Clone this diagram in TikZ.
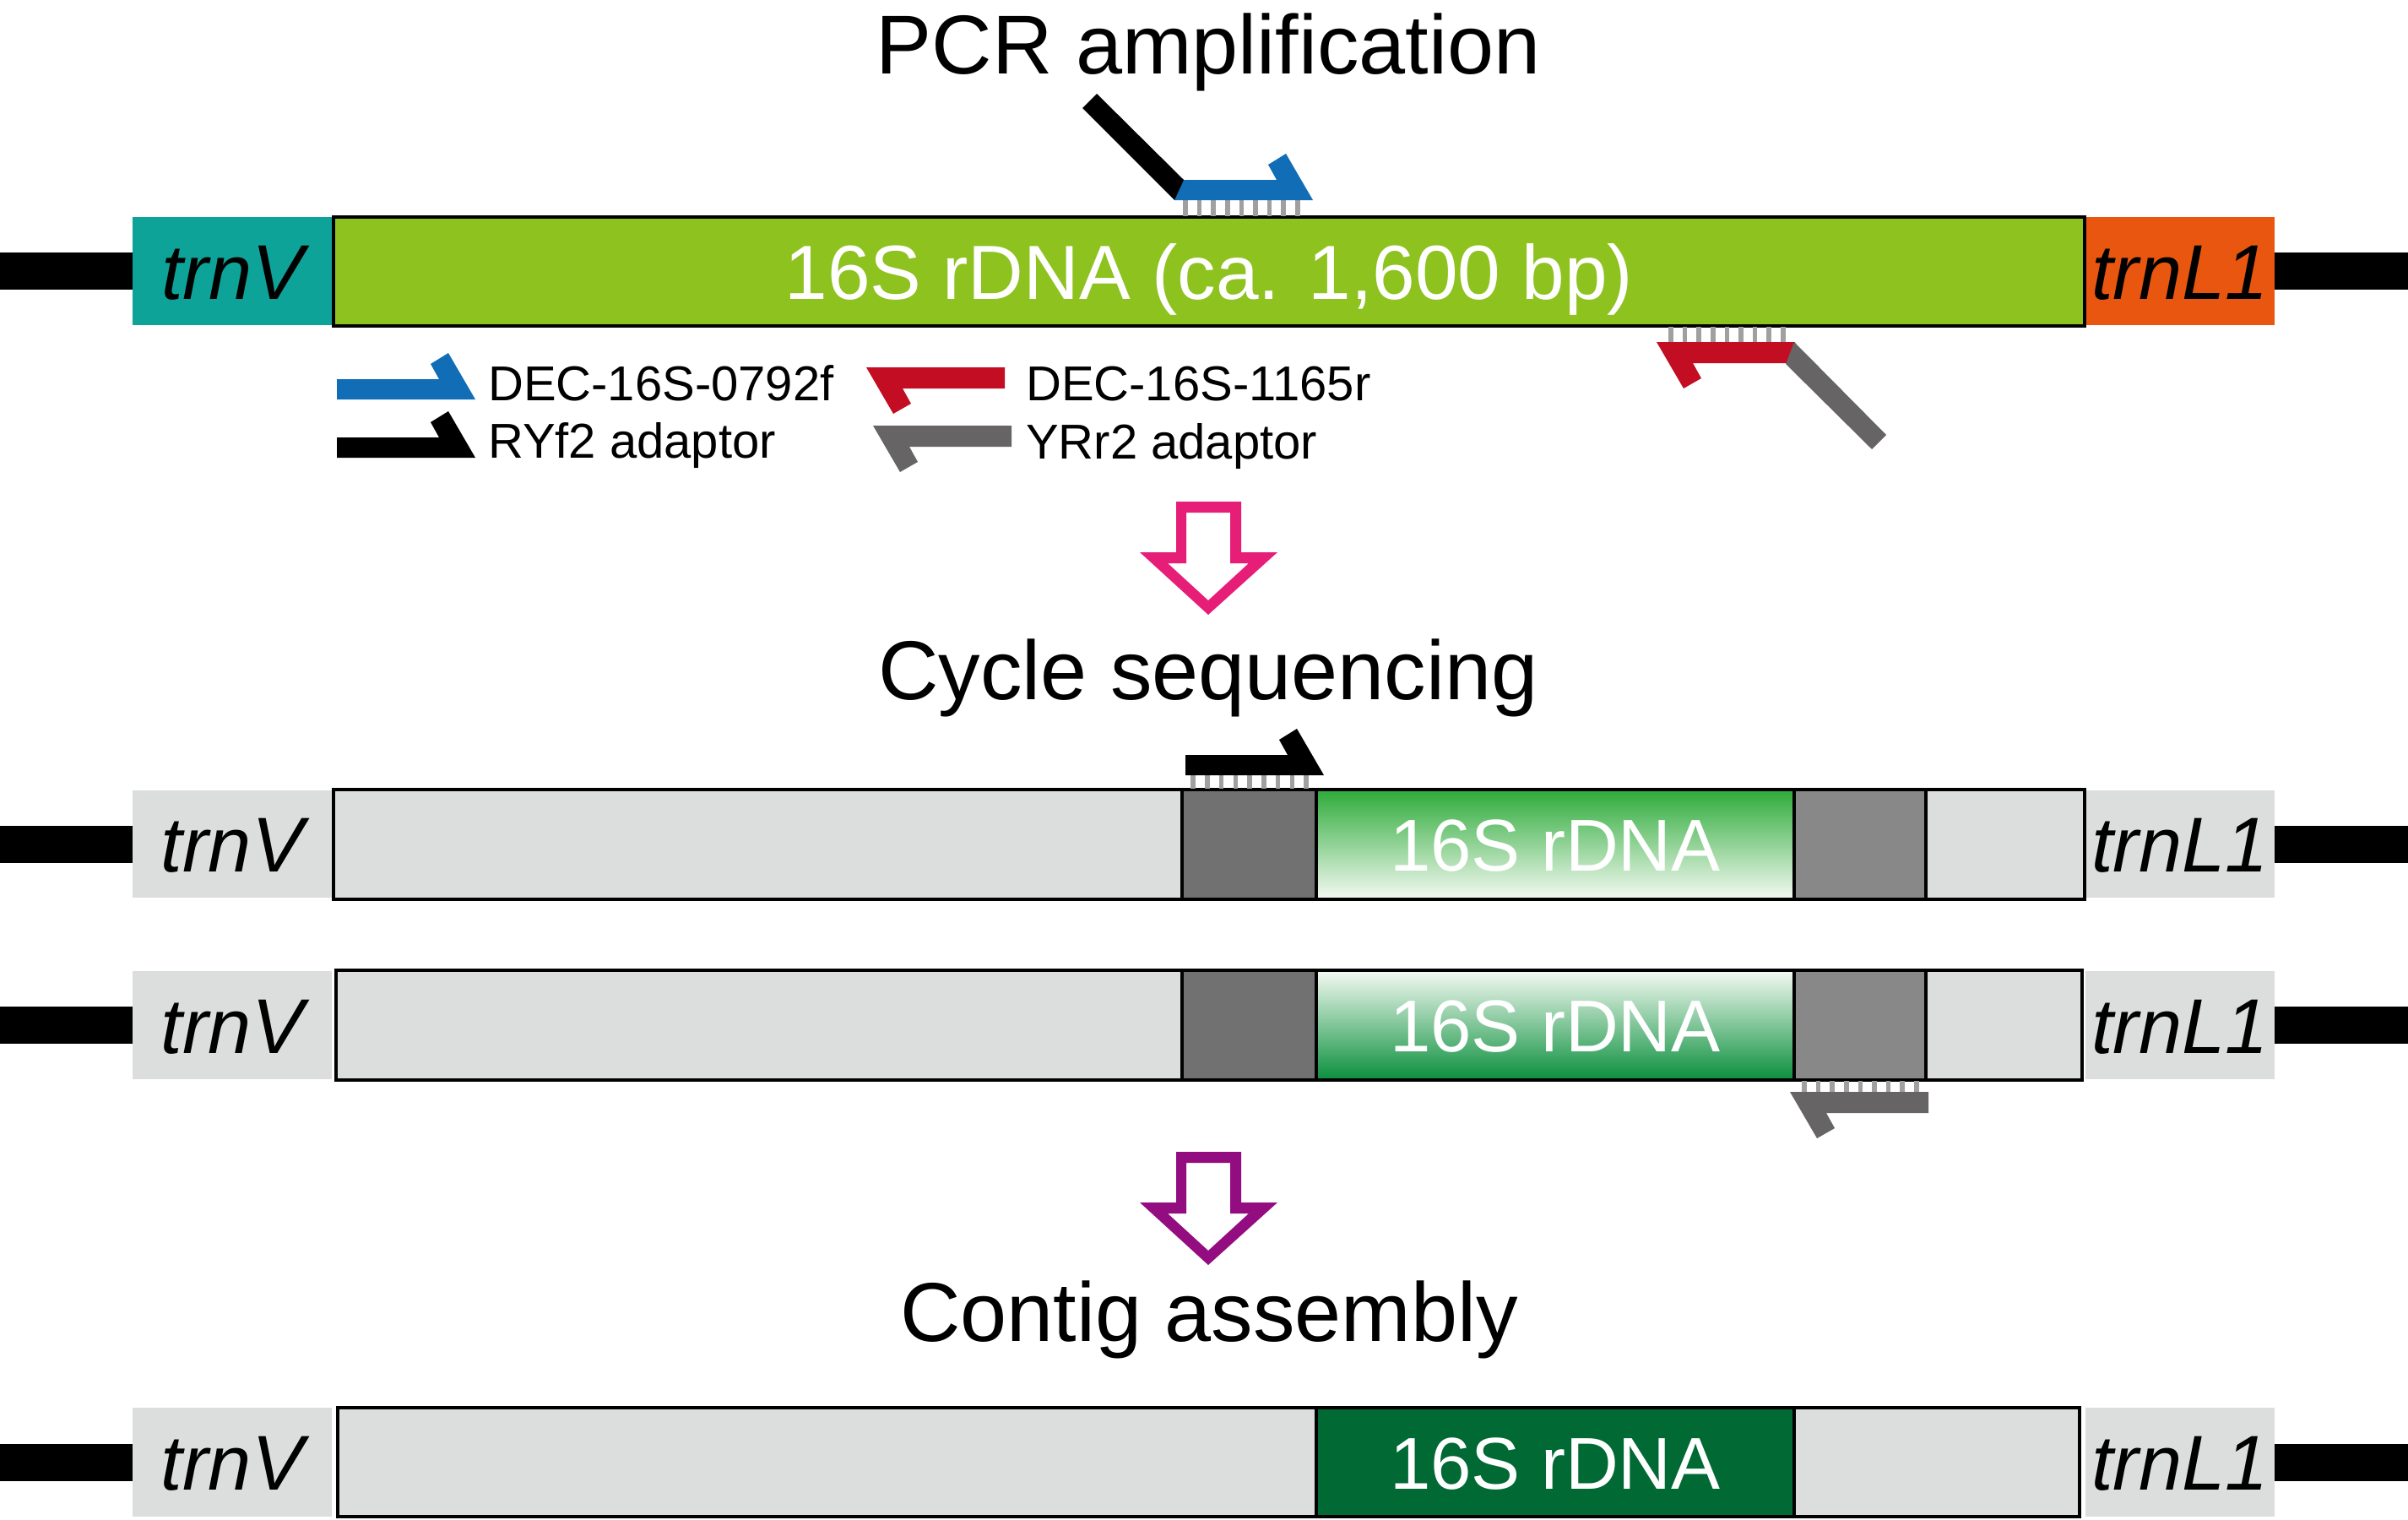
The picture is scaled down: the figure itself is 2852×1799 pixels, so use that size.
\documentclass[tikz,border=0pt]{standalone}
\usepackage{fontspec}
\setmainfont{Liberation Sans}
\definecolor{teal1}{HTML}{0EA399}
\definecolor{lgreen}{HTML}{8DC21F}
\definecolor{orng}{HTML}{E8560F}
\definecolor{pblue}{HTML}{116EB6}
\definecolor{pred}{HTML}{C30D23}
\definecolor{pgray}{HTML}{666464}
\definecolor{boxgray}{HTML}{DCDDDD}
\definecolor{dgrayA}{HTML}{717171}
\definecolor{dgrayB}{HTML}{888888}
\definecolor{tickgray}{HTML}{A0A0A0}
\definecolor{gtop}{HTML}{2EAB3A}
\definecolor{gpale}{HTML}{F5FAF3}
\definecolor{gbot}{HTML}{0A8F3C}
\definecolor{dgreen}{HTML}{006934}
\definecolor{pink1}{HTML}{E61E78}
\definecolor{purp1}{HTML}{930D80}
\newcommand\fTitle{\fontsize{99}{110}\selectfont}
\newcommand\fLegend{\fontsize{58}{64}\selectfont}
\newcommand\fTrn{\fontsize{92}{100}\selectfont\itshape}
\newcommand\fBig{\fontsize{91}{100}\selectfont}
\newcommand\fSeg{\fontsize{87}{96}\selectfont}
\tikzset{
  blk/.style={rectangle, inner sep=0pt, outer sep=0pt, anchor=north west},
  mainbox/.style={blk, draw=black, line width=4pt},
  trnbox/.style={blk, font=\fTrn, text height=66pt, text depth=0pt},
  seglbl/.style={font=\fSeg, text=white, text height=63pt, text depth=0pt},
  flank/.style={line width=44pt, black},
  tickline/.style={line width=5.5pt, tickgray},
  legtext/.style={font=\fLegend, anchor=base west, inner sep=0pt},
  titletext/.style={font=\fTitle, anchor=base, inner sep=0pt},
  fwdprimer/.pic={\fill (-164,0) -- (0,0) -- (-32,-55) -- (-53,-42) -- (-43,-24) -- (-164,-24) -- cycle;},
  revprimer/.pic={\fill (0,0) -- (164,0) -- (164,25) -- (43,25) -- (53,43) -- (32,55) -- cycle;},
  hollowarrow/.pic={\fill[even odd rule] (1393,594) -- (1470,594) -- (1470,654) -- (1513,654) -- (1431,728) -- (1350,654) -- (1393,654) -- cycle
     (1405,607) -- (1457,607) -- (1457,667) -- (1479,667) -- (1431,711) -- (1383,667) -- (1405,667) -- cycle;},
}
\begin{document}
\begin{tikzpicture}[x=1pt,y=-1pt]
\useasboundingbox (0,0) rectangle (2852,1799);

% ---------- titles ----------
\node[titletext] (t1) at (1431,87) {PCR amplification};
\node[titletext] (t2) at (1431,828) {Cycle sequencing};
\node[titletext] (t3) at (1432,1588) {Contig assembly};

% ---------- row 1 ----------
\node[trnbox, fill=teal1, minimum width=237pt, minimum height=128pt] (v1) at (157,257) {trnV};
\node[trnbox, fill=orng, minimum width=224pt, minimum height=128pt] (l1) at (2470,257) {trnL1};
\node[mainbox, fill=lgreen, font=\fBig, text=white, text height=65pt, text depth=0pt,
      minimum width=2074pt, minimum height=129pt] (b1) at (395,257) {16S rDNA (ca. 1,600 bp)};
\coordinate (e1l) at (0,321);
\coordinate (e1r) at (2852,321);
\draw[flank] (e1l) -- (v1.west);
\draw[flank] (l1.east) -- (e1r);

% forward primer with adaptor (top)
\foreach \i in {0,...,8} \draw[tickline] ({1404+16.6*\i},237) -- ({1404+16.6*\i},256);
\pic[pblue] at (1555,237) {fwdprimer};
\fill[black] (1282,128) -- (1299,111) -- (1402,213) -- (1391,237) -- cycle;

% reverse primer with adaptor (bottom)
\foreach \i in {0,...,8} \draw[tickline] ({1979+16.6*\i},387) -- ({1979+16.6*\i},405);
\pic[pred] at (1962,405) {revprimer};
\fill[pgray] (2125,405) -- (2234,515) -- (2217,532) -- (2115,431) -- cycle;

% legend
\pic[pblue] at (563,473) {fwdprimer};
\pic[black] at (563,542) {fwdprimer};
\pic[pred] at (1026,435) {revprimer};
\pic[pgray] at (1034,504) {revprimer};
\node[legtext] (lg1) at (578,474) {DEC-16S-0792f};
\node[legtext] (lg2) at (578,542) {RYf2 adaptor};
\node[legtext] (lg3) at (1215,474) {DEC-16S-1165r};
\node[legtext] (lg4) at (1215,543) {YRr2 adaptor};

% arrow 1
\pic[pink1] at (0,0) {hollowarrow};

% ---------- row 2 ----------
\node[trnbox, fill=boxgray, minimum width=236pt, minimum height=127pt] (v2) at (157,936) {trnV};
\node[trnbox, fill=boxgray, minimum width=224pt, minimum height=127pt] (l2) at (2470,936) {trnL1};
\node[mainbox, fill=boxgray, minimum width=2074pt, minimum height=130pt] (b2) at (395,935) {};
\node[mainbox, fill=dgrayA, minimum width=159pt, minimum height=130pt] (s2a) at (1400,935) {};
\node[mainbox, top color=gtop, bottom color=gpale, seglbl, minimum width=566pt, minimum height=130pt] (s2g) at (1559,935) {16S rDNA};
\node[mainbox, fill=dgrayB, minimum width=156pt, minimum height=130pt] (s2b) at (2125,935) {};
\coordinate (e2l) at (0,999.5);
\coordinate (e2r) at (2852,999.5);
\draw[flank] (e2l) -- (v2.west);
\draw[flank] (l2.east) -- (e2r);
\foreach \i in {0,...,8} \draw[tickline] ({1413+16.75*\i},918) -- ({1413+16.75*\i},934);
\pic[black] at (1568,918) {fwdprimer};

% ---------- row 3 ----------
\node[trnbox, fill=boxgray, minimum width=236pt, minimum height=128pt] (v3) at (157,1150) {trnV};
\node[trnbox, fill=boxgray, minimum width=224pt, minimum height=128pt] (l3) at (2470,1150) {trnL1};
\node[mainbox, fill=boxgray, minimum width=2068pt, minimum height=130pt] (b3) at (398,1149) {};
\node[mainbox, fill=dgrayA, minimum width=159pt, minimum height=130pt] (s3a) at (1400,1149) {};
\node[mainbox, top color=gpale, bottom color=gbot, seglbl, minimum width=566pt, minimum height=130pt] (s3g) at (1559,1149) {16S rDNA};
\node[mainbox, fill=dgrayB, minimum width=156pt, minimum height=130pt] (s3b) at (2125,1149) {};
\coordinate (e3l) at (0,1214);
\coordinate (e3r) at (2852,1214);
\draw[flank] (e3l) -- (v3.west);
\draw[flank] (l3.east) -- (e3r);
\foreach \i in {0,...,8} \draw[tickline] ({2137+16.6*\i},1280) -- ({2137+16.6*\i},1293);
\pic[pgray] at (2120,1293) {revprimer};

% arrow 2
\pic[purp1] at (0,770) {hollowarrow};

% ---------- row 4 ----------
\node[trnbox, fill=boxgray, minimum width=236pt, minimum height=129pt] (v4) at (157,1667) {trnV};
\node[trnbox, fill=boxgray, minimum width=224pt, minimum height=129pt] (l4) at (2470,1667) {trnL1};
\node[mainbox, fill=boxgray, minimum width=2063pt, minimum height=129pt] (b4) at (400,1667) {};
\node[mainbox, fill=dgreen, seglbl, minimum width=566pt, minimum height=129pt] (s4g) at (1559,1667) {16S rDNA};
\coordinate (e4l) at (0,1731.5);
\coordinate (e4r) at (2852,1731.5);
\draw[flank] (e4l) -- (v4.west);
\draw[flank] (l4.east) -- (e4r);
\end{tikzpicture}
\end{document}
